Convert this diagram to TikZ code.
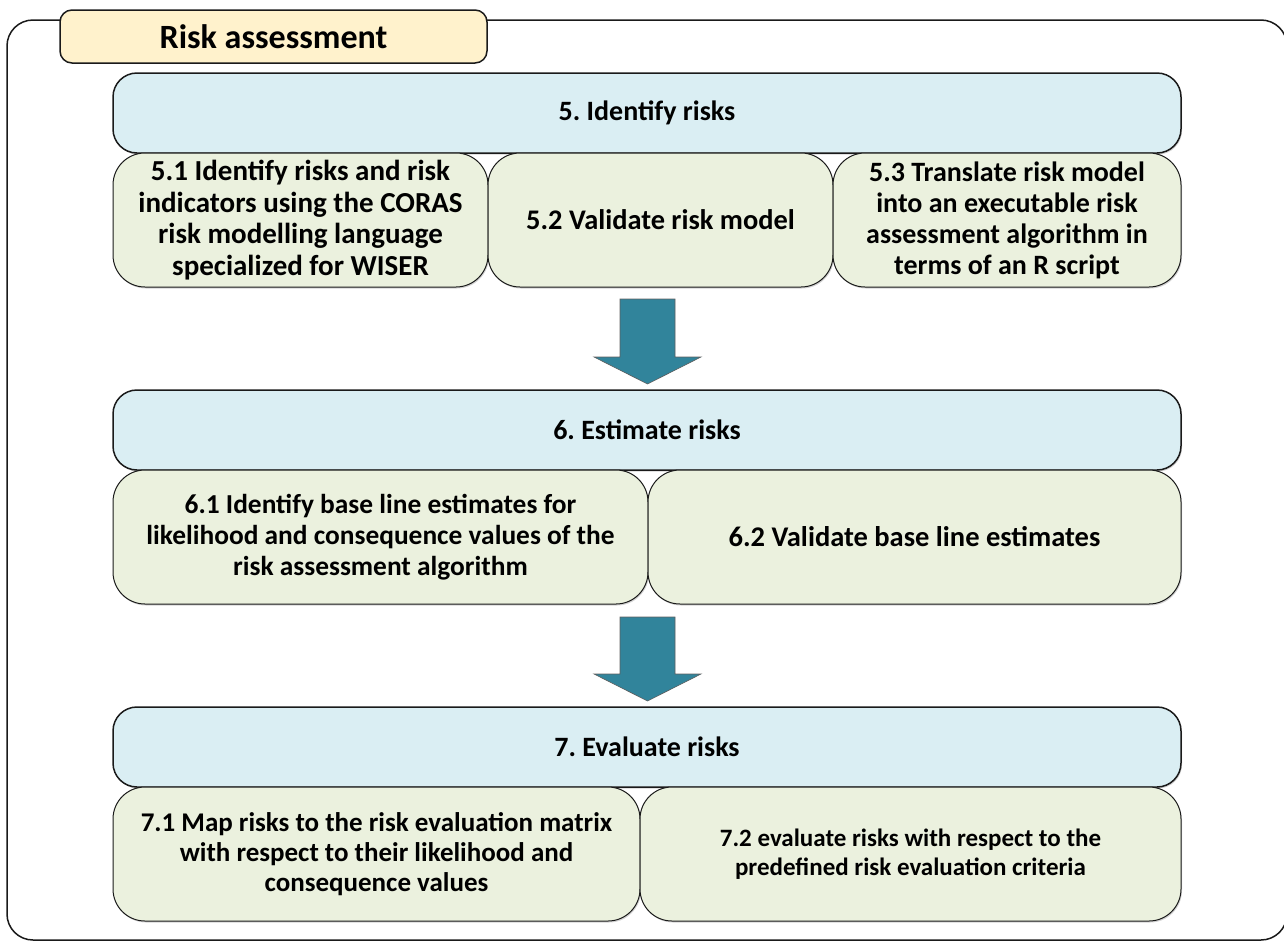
\documentclass[tikz,border=0pt]{standalone}
\usepackage{fontspec}
\setmainfont{Carlito}
\frenchspacing
\usetikzlibrary{shadows}
\definecolor{hdrfill}{HTML}{FFF2CC}
\definecolor{stepfill}{HTML}{DAEEF3}
\definecolor{taskfill}{HTML}{EBF1DE}
\definecolor{flowblue}{HTML}{31849B}
\definecolor{edge}{HTML}{1A1A1A}
\tikzset{
  every node/.style={font=\bfseries\fontsize{28}{29.5}\selectfont, text=black},
  tsize/.style 2 args={font=\bfseries\fontsize{#1}{#2}\selectfont},
  outerframe/.style={draw=edge, line width=1.5pt, rounded corners=26pt},
  titlebox/.style={draw=edge, line width=1.5pt, fill=hdrfill, rounded corners=12pt,
    inner sep=0pt, font=\bfseries\fontsize{34}{36}\selectfont},
  stepbox/.style={draw=edge, line width=1.5pt, fill=stepfill, rounded corners=24pt,
    inner sep=0pt, minimum height=80pt, minimum width=1068pt,
    drop shadow={shadow xshift=1pt, shadow yshift=-1.5pt, opacity=0.35}},
  taskbox/.style={draw=edge, line width=1pt, fill=taskfill, rounded corners=32pt,
    inner sep=0pt, minimum height=134pt, align=center,
    drop shadow={shadow xshift=1pt, shadow yshift=-1.5pt, opacity=0.35}},
  flowarrow/.style={fill=flowblue, draw=edge!70, line width=0.6pt}
}
\begin{document}
\begin{tikzpicture}[x=1pt, y=-1pt]
\useasboundingbox (0,0) rectangle (1284,943);

% surrounding frame of the assessment phase
\draw[outerframe] (7,20) rectangle (1287,940);
\node[titlebox, minimum width=427pt, minimum height=53pt] (title) at (273.5,36.5) {Risk assessment};

% step 5
\node[stepbox] (s5) at (647,113) {5. Identify risks};
\node[taskbox, tsize={29}{31.5}, minimum width=375pt] (t51) at (300.5,220) {5.1 Identify risks and risk\\indicators using the CORAS\\risk modelling language\\specialized for WISER};
\node[taskbox, tsize={28.4}{31}, minimum width=345pt] (t52) at (660.5,220) {5.2 Validate risk model};
\node[taskbox, tsize={28}{31}, minimum width=348pt] (t53) at (1007,220) {5.3 Translate risk model\\into an executable risk\\assessment algorithm in\\terms of an R script};

% step 6
\node[stepbox] (s6) at (647,430) {6. Estimate risks};
\node[taskbox, tsize={27.4}{31}, minimum width=535pt] (t61) at (380.5,537) {6.1 Identify base line estimates for\\likelihood and consequence values of the\\risk assessment algorithm};
\node[taskbox, tsize={28.5}{31}, minimum width=533pt] (t62) at (914.5,537) {6.2 Validate base line estimates};

% step 7
\node[stepbox] (s7) at (647,747) {7. Evaluate risks};
\node[taskbox, tsize={27}{30}, minimum width=527pt] (t71) at (376.5,854) {7.1 Map risks to the risk evaluation matrix\\with respect to their likelihood and\\consequence values};
\node[taskbox, tsize={25}{29.5}, minimum width=541pt] (t72) at (910.5,854) {7.2 evaluate risks with respect to the\\predefined risk evaluation criteria};

% block arrows between the steps
\draw[flowarrow] (620,299) -- (675,299) -- (675,357) -- (701,357) -- (647.5,384)
  -- (594,357) -- (620,357) -- cycle;
\draw[flowarrow] (620,617) -- (675,617) -- (675,674) -- (701,674) -- (647.5,701)
  -- (594,674) -- (620,674) -- cycle;
\end{tikzpicture}
\end{document}
